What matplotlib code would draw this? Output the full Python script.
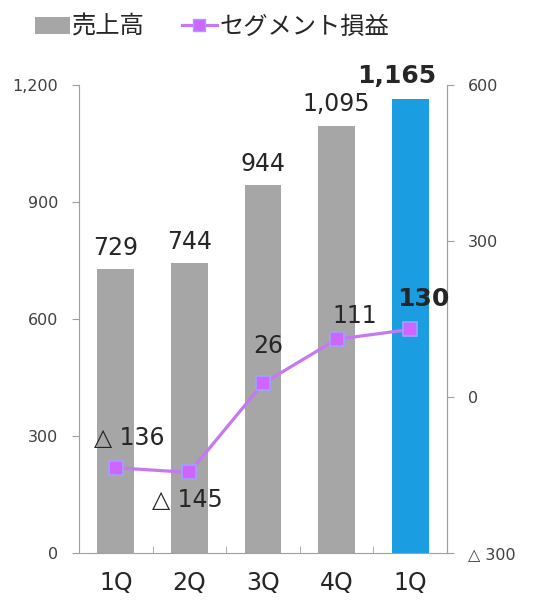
import matplotlib
matplotlib.use("Agg")
import matplotlib.pyplot as plt
import matplotlib.ticker as mticker
from matplotlib.patches import Patch
from matplotlib.lines import Line2D

plt.rcParams['font.family'] = ['DejaVu Sans', 'Noto Sans CJK JP']

# --- data ---
quarters = ['1Q', '2Q', '3Q', '4Q', '1Q']
sales = [729, 744, 944, 1095, 1165]
segment_profit = [-136, -145, 26, 111, 130]
left_ticks = [0, 300, 600, 900, 1200]
right_ticks = [-300, 0, 300, 600]

# label offsets in points (dx, dy)
sales_offsets = [(0, 10), (0, 10), (0, 10), (0, 11), (-9.5, 11)]
profit_offsets = [(10, 16.5), (-1.5, -25), (3.5, 22), (13, 11.5), (9.5, 17)]

GRAY = '#A6A6A6'
BLUE = '#1B9DE2'
LINE = '#C678F2'
AXIS = '#A0A0A0'
TXT = '#404040'


def fmt(v):
    if v < 0:
        return f"\u25b3 {abs(v):,}"
    return f"{v:,}"


fig = plt.figure(figsize=(5.42, 6.03), dpi=100)
ax = fig.add_axes([0.1458, 0.0829, 0.6789, 0.7761])
ax2 = ax.twinx()

x = list(range(len(quarters)))
colors = [GRAY] * (len(sales) - 1) + [BLUE]
ax.bar(x, sales, width=0.5, color=colors, zorder=2)

for i, v in enumerate(sales):
    last = i == len(sales) - 1
    ax.annotate(fmt(v), (i, v), xytext=sales_offsets[i], textcoords='offset points',
                ha='center', va='baseline', fontsize=18 if last else 17,
                fontweight='bold' if last else 'normal', color='#262626')

ax2.plot(x, segment_profit, color=LINE, lw=2.3, marker='s', markersize=10,
         markerfacecolor='#CC66FF', markeredgecolor='#A0A0FF', markeredgewidth=1.2, zorder=3)

for i, v in enumerate(segment_profit):
    last = i == len(segment_profit) - 1
    ax2.annotate(fmt(v), (i, v), xytext=profit_offsets[i], textcoords='offset points',
                 ha='center', va='baseline', fontsize=18 if last else 17,
                 fontweight='bold' if last else 'normal', color='#262626')

# axes
ax.set_xlim(-0.5, len(quarters) - 0.5)
ax.set_ylim(0, 1200)
ax2.set_ylim(-300, 600)

ax.set_yticks(left_ticks)
ax.yaxis.set_major_formatter(mticker.FuncFormatter(lambda v, p: f"{int(v):,}"))
ax2.set_yticks(right_ticks)
ax2.set_yticklabels([fmt(t) for t in right_ticks])

ax.set_xticks(x)
ax.set_xticklabels(quarters)
ax.set_xticks([i + 0.5 for i in x[:-1]], minor=True)
ax.tick_params(axis='x', which='major', length=0, pad=13, labelsize=17, labelcolor='#262626')
ax.tick_params(axis='x', which='minor', direction='in', length=5, color=AXIS)
ax.tick_params(axis='y', length=5, color=AXIS, pad=10, labelsize=11.5, labelcolor=TXT)
ax2.tick_params(axis='y', length=5, color=AXIS, pad=10, labelsize=11.5, labelcolor=TXT)

for a in (ax, ax2):
    a.spines['top'].set_visible(False)
    for s in ('left', 'right', 'bottom'):
        a.spines[s].set_color(AXIS)
ax2.spines['left'].set_visible(False)
ax2.spines['bottom'].set_visible(False)

handles = [Patch(facecolor=GRAY, edgecolor='none'),
           Line2D([], [], color=LINE, lw=2.3, marker='s', markersize=9,
                  markerfacecolor='#CC66FF', markeredgecolor='#A0A0FF')]
fig.legend(handles, ['売上高', 'セグメント損益'], loc='center left',
           bbox_to_anchor=(0.064, 0.956), frameon=False, ncol=2, fontsize=17.5,
           handlelength=1.45, handleheight=0.7, handletextpad=0.1, columnspacing=1.5,
           borderpad=0, borderaxespad=0, labelcolor='#262626')

fig.savefig('out.png', dpi=100)
